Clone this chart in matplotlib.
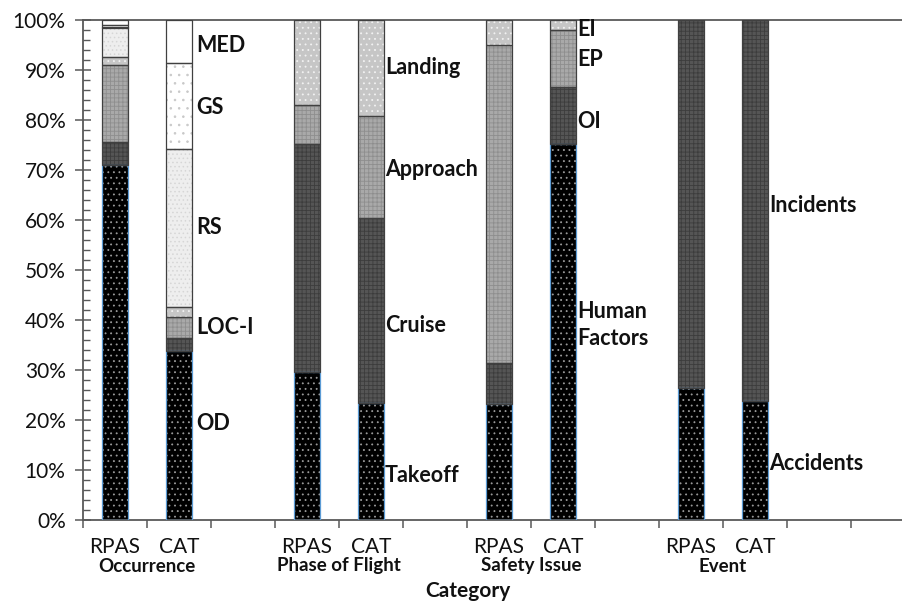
import matplotlib
matplotlib.use("Agg")
import matplotlib.pyplot as plt
from matplotlib.transforms import blended_transform_factory
import numpy as np

plt.rcParams['font.family'] = ['Lato', 'DejaVu Sans']

# ---------------- data ----------------
groups = ["Occurrence", "Phase of Flight", "Safety Issue", "Event"]
bar_names = ["RPAS", "CAT"]

occ_series = ["OD", "SCF", "LOC-I", "OTHR", "RS", "GS", "MED"]
occ_rpas = [71.0, 4.6, 15.4, 1.6, 5.9, 0.6, 0.9]
occ_cat = [33.8, 2.6, 4.2, 2.0, 31.6, 17.2, 8.6]
occ_show = [True, False, True, False, True, True, True]

phase_series = ["Takeoff", "Cruise", "Approach", "Landing"]
phase_rpas = [29.6, 45.6, 7.8, 17.0]
phase_cat = [23.4, 37.0, 20.4, 19.2]

safety_series = ["Human\nFactors", "OI", "EP", "EI"]
safety_rpas = [23.2, 8.2, 63.6, 5.0]
safety_cat = [75.2, 11.4, 11.4, 2.0]

event_series = ["Accidents", "Incidents"]
event_rpas = [26.4, 73.6]
event_cat = [23.8, 76.2]

yticks = [0, 10, 20, 30, 40, 50, 60, 70, 80, 90, 100]
ytick_labels = [f"{v}%" for v in yticks]

# label anchor heights (layout, in % units)
occ_label_y = [19.4, None, 38.6, None, 58.4, 82.4, 95.0]
phase_label_y = [9.0, 39.0, 70.0, 90.6]
safety_label_y = [39.0, 79.8, 92.0, 98.0]
event_label_y = [11.4, 63.0]

# ---------------- styles ----------------
styles = [
    ("#000000", "...", "#9a9a9a"),
    ("#555555", "++++", "#3c3c3c"),
    ("#a9a9a9", "++++", "#8e8e8e"),
    ("#c6c6c6", "...", "#f2f2f2"),
    ("#eeeeee", "....", "#d6d6d6"),
    ("#ffffff", "..", "#c8c8c8"),
    ("#ffffff", "", "#ffffff"),
]

W, H = 903, 601
fig = plt.figure(figsize=(W / 100, H / 100), dpi=100)
x0, x1 = 83, 83 + 13 * 64
y0, y1 = 520, 20
ax = fig.add_axes([x0 / W, 1 - y0 / H, (x1 - x0) / W, (y0 - y1) / H])
ax.set_xlim(0, 13)
ax.set_ylim(0, 100)

bar_w = 0.4
plt.rcParams['hatch.linewidth'] = 0.6

data = [
    (occ_series, occ_rpas, occ_cat, occ_show, occ_label_y),
    (phase_series, phase_rpas, phase_cat, [True] * 4, phase_label_y),
    (safety_series, safety_rpas, safety_cat, [True] * 4, safety_label_y),
    (event_series, event_rpas, event_cat, [True] * 2, event_label_y),
]

for gi, (names, rpas, cat, show, ly) in enumerate(data):
    base_idx = gi * 3
    for bi, vals in enumerate([rpas, cat]):
        xc = base_idx + bi + 0.5
        bottom = 0.0
        for li, v in enumerate(vals):
            fc, hatch, hc = styles[li]
            ax.bar(xc, v, bar_w, bottom=bottom, color=fc, hatch=hatch,
                   edgecolor=hc, linewidth=0, zorder=2)
            ec = "#5b9bd5" if li == 0 else "#404040"
            ax.bar(xc, v, bar_w, bottom=bottom, fill=False,
                   edgecolor=ec, linewidth=0.9, zorder=3)
            if bi == 1 and show[li]:
                ax.text(xc + bar_w / 2 + (0.07 if gi == 0 else 0.02),
                        ly[li], names[li], ha="left", va="center",
                        fontsize=15.5, fontweight="bold", color="#111111",
                        linespacing=1.3, zorder=4)
            bottom += v

ax.spines["right"].set_visible(False)
for s in ["left", "bottom", "top"]:
    ax.spines[s].set_color("#595959")
    ax.spines[s].set_linewidth(1.3)

ax.set_yticks(yticks)
ax.set_yticklabels(ytick_labels, fontsize=15, color="#111111")
ax.set_yticks(np.arange(0, 101, 2), minor=True)
ax.tick_params(axis="y", which="major", direction="inout", length=11,
               width=1.1, color="#595959", pad=7)
ax.tick_params(axis="y", which="minor", direction="in", length=5,
               width=1.0, color="#595959")
ax.set_xticks(np.arange(0, 14, 1))
ax.set_xticklabels([])
ax.tick_params(axis="x", which="major", direction="out", length=6,
               width=1.1, color="#595959")

trans = blended_transform_factory(ax.transData, fig.transFigure)
for gi, g in enumerate(groups):
    base_idx = gi * 3
    for bi, bn in enumerate(bar_names):
        ax.text(base_idx + bi + 0.5, 1 - 547 / H, bn, transform=trans,
                ha="center", va="center", fontsize=15, color="#111111")
    ax.text(base_idx + 1, 1 - 566 / H, g, transform=trans, ha="center",
            va="center", fontsize=13.5, fontweight="bold", color="#111111")

fig.text(468 / W, 1 - 591 / H, "Category", ha="center", va="center",
         fontsize=15, fontweight="bold", color="#111111")

fig.savefig("out.png", dpi=100)
